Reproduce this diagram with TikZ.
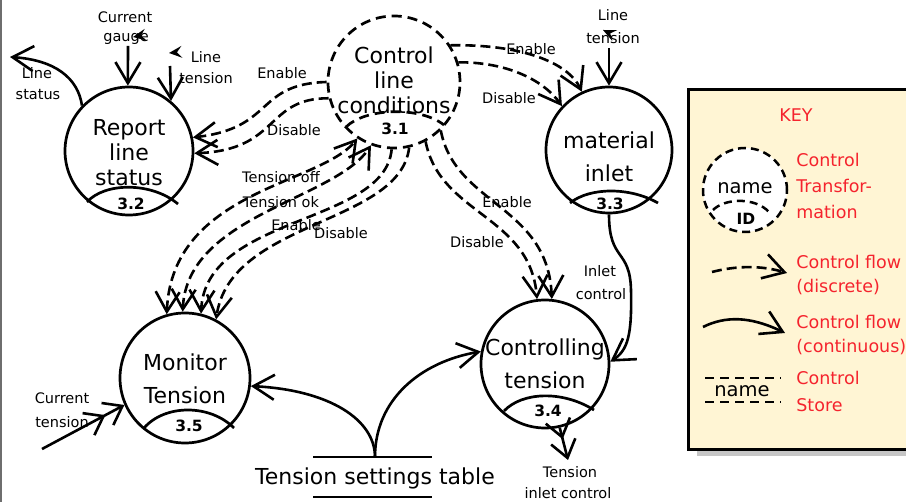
\documentclass[tikz,border=0pt]{standalone}
\usepackage{fontspec}
\setmainfont{DejaVu Sans}
\usetikzlibrary{arrows.meta}
\definecolor{keyfill}{RGB}{255,245,212}
\definecolor{keyred}{RGB}{245,35,45}
\definecolor{framegray}{RGB}{110,110,110}
\begin{document}
\begin{tikzpicture}[x=1pt,y=-1pt,
  line width=2.7pt,
  proc/.style={circle,draw,line width=2.7pt,inner sep=0pt,minimum size=#1},
  ctrlproc/.style={proc=#1,dash pattern=on 10pt off 6pt},
  ptext/.style={align=center,inner sep=0pt,font=\fontsize{22}{25}\selectfont},
  ptextwide/.style={align=center,inner sep=0pt,font=\fontsize{22}{33}\selectfont},
  idtext/.style={inner sep=0pt,font=\fontsize{15.5}{15}\selectfont\bfseries},
  lbl/.style={inner sep=0pt,font=\fontsize{14.5}{16}\selectfont},
  keytext/.style={inner sep=0pt,anchor=west,text=keyred,font=\fontsize{17.5}{19}\selectfont},
  flow/.style={line width=2.6pt,-{Straight Barb[length=21pt,width=25pt]}},
  dflow/.style={flow,dash pattern=on 10pt off 5pt},
  twoway/.style={line width=2.6pt,dash pattern=on 10pt off 5pt,
    {Straight Barb[length=20pt,width=24pt]}-{Straight Barb[length=20pt,width=24pt]}},
  dbl/.style={line width=2.6pt,
    -{Straight Barb[length=17pt,width=25pt,sep=1pt]Straight Barb[length=17pt,width=25pt]}},
  idarc/.style={line width=2.7pt},
  stub/.pic={\fill (0,0) -- (13,-6) -- (8,0) -- (13,6) -- cycle;}
]
\useasboundingbox (0,0) rectangle (906,502);

% page frame on the left
\draw[framegray,line width=2pt] (1,0) -- (1,502);

% ---------------- processes ----------------
\node[proc=128] (rep) at (129,151) {};
\node[ctrlproc=132] (ctl) at (394,82) {};
\node[proc=126] (mat) at (609,150) {};
\node[proc=130] (mon) at (185,378) {};
\node[proc=128] (ctg) at (545,364) {};

% identifier arcs
\draw[idarc] (87,202) .. controls (105,182) and (152,182) .. (178,204);
\draw[idarc,dash pattern=on 10pt off 6pt] (346,127) .. controls (365,108) and (420,106) .. (444,125);
\draw[idarc] (570,203) .. controls (590,187) and (630,187) .. (658,203);
\draw[idarc] (144,428) .. controls (165,404) and (210,404) .. (234,428);
\draw[idarc] (504,411) .. controls (522,392) and (562,390) .. (594,410);

% process names and identifiers
\node[ptext] (rept) at (129,153) {Report\\line\\status};
\node[idtext] (repid) at (131,204) {3.2};
\node[ptext] (ctlt) at (394,80) {Control\\line\\conditions};
\node[idtext] (ctlid) at (395,129) {3.1};
\node[ptextwide] (matt) at (609,157) {material\\inlet};
\node[idtext] (matid) at (610,204) {3.3};
\node[ptextwide] (mont) at (185,379) {Monitor\\Tension};
\node[idtext] (monid) at (189,426) {3.5};
\node[ptextwide] (ctgt) at (545,364) {Controlling\\tension};
\node[idtext] (ctgid) at (548,411) {3.4};

% ---------------- control store ----------------
\node[inner sep=0pt,font=\fontsize{22}{25}\selectfont] (tabt) at (375,478) {Tension settings table};
\draw[line width=2.7pt] (313,457) -- (432,457);
\draw[line width=2.7pt] (313,497) -- (432,497);
\coordinate (tab) at (375,457);

% ---------------- free ends ----------------
\coordinate (cg) at (128,46);
\coordinate (lt1) at (170,66);
\coordinate (ls) at (10,57);
\coordinate (lt2) at (609,48);
\coordinate (ct) at (42,449);
\coordinate (out) at (568,460);

% ---------------- continuous flows ----------------
\draw[flow] (cg) -- (rep.91);
\draw[flow] (lt1) -- (rep.50);
\draw[flow] (rep.136) .. controls (78,78) and (55,60) .. (ls);
\draw[flow] (lt2) -- (mat.90);
\draw[flow] (mat.270) .. controls (609,262) and (630,248) .. (631,290)
  .. controls (632,335) and (628,350) .. (ctg.2);
\draw[flow] (tab) .. controls (375,420) and (330,390) .. (mon.353);
\draw[flow] (tab) .. controls (375,400) and (420,362) .. (ctg.169);
\draw[dbl] (ct) -- (mon.204);
\draw[dbl] (ctg.283) -- (out);

% ---------------- discrete flows ----------------
\draw[dflow] (ctl.180) .. controls (255,84) and (275,128) .. (rep.12);
\draw[dflow] (ctl.194) .. controls (265,98) and (280,150) .. (rep.-2);
\draw[dflow] (ctl.33) .. controls (520,44) and (568,62) .. (mat.115);
\draw[dflow] (ctl.17) .. controls (510,62) and (545,82) .. (mat.137);
\draw[dflow] (ctl.314) .. controls (455,205) and (548,205) .. (ctg.84);
\draw[dflow] (ctl.298) .. controls (440,215) and (530,215) .. (ctg.97);
\draw[twoway] (mon.106) .. controls (172,190) and (320,185) .. (ctl.237);
\draw[twoway] (mon.92) .. controls (187,215) and (335,200) .. (ctl.250);
\draw[dflow] (ctl.268) .. controls (385,225) and (205,215) .. (mon.76);
\draw[dflow] (ctl.283) .. controls (400,225) and (230,220) .. (mon.62);

% small loose arrowheads
\pic[rotate=10] at (133,37) {stub};
\pic[rotate=5] at (169,53) {stub};
\pic[rotate=-25] at (603,30) {stub};

% ---------------- flow labels ----------------
\node[lbl] (l1a) at (125,17) {Current};
\node[lbl] (l1b) at (126,39) {gauge};
\node[lbl] (l2a) at (206,57) {Line};
\node[lbl] (l2b) at (206,78) {tension};
\node[lbl] (l3a) at (37,73) {Line};
\node[lbl] (l3b) at (38,95) {status};
\node[lbl] (l4) at (282,73) {Enable};
\node[lbl] (l5) at (294,130) {Disable};
\node[lbl] (l6) at (531,49) {Enable};
\node[lbl] (l7) at (509,98) {Disable};
\node[lbl] (l8a) at (613,15) {Line};
\node[lbl] (l8b) at (613,38) {tension};
\node[lbl] (l9) at (281,177) {Tension off};
\node[lbl] (l10) at (281,202) {Tension ok};
\node[lbl] (l11) at (296,225) {Enable};
\node[lbl] (l12) at (341,233) {Disable};
\node[lbl] (l13) at (507,202) {Enable};
\node[lbl] (l14) at (477,242) {Disable};
\node[lbl] (l15a) at (600,271) {Inlet};
\node[lbl] (l15b) at (601,294) {control};
\node[lbl] (l16a) at (62,398) {Current};
\node[lbl] (l16b) at (62,422) {tension};
\node[lbl] (l17a) at (570,472) {Tension};
\node[lbl] (l17b) at (568,493) {inlet control};

% ---------------- key ----------------
\fill[gray!45] (697,450) rectangle (906,456);
\draw[line width=3pt,fill=keyfill] (688,90) rectangle (912,450);
\node[inner sep=0pt,text=keyred,font=\fontsize{17.5}{19}\selectfont] (keyt) at (796,115) {KEY};
\node[circle,draw,fill=white,line width=2.5pt,dash pattern=on 8pt off 5pt,
  inner sep=0pt,minimum size=84] (kproc) at (745,190) {};
\draw[line width=2.5pt,dash pattern=on 8pt off 5pt] (713,210) .. controls (725,198) and (755,197) .. (769,212);
\node[inner sep=0pt,font=\fontsize{19.5}{22}\selectfont] (kname) at (745,188) {name};
\node[inner sep=0pt,font=\fontsize{15.5}{15}\selectfont\bfseries] (kid) at (746,219) {ID};
\node[keytext] (k1a) at (795,160) {Control};
\node[keytext] (k1b) at (795,186) {Transfor-};
\node[keytext] (k1c) at (795,212) {mation};
\coordinate (kd1) at (712,272);
\coordinate (kd2) at (787,273);
\draw[dflow] (kd1) .. controls (735,266) and (760,265) .. (kd2);
\node[keytext] (k2a) at (795,262) {Control flow};
\node[keytext] (k2b) at (795,287) {(discrete)};
\coordinate (ks1) at (703,327);
\coordinate (ks2) at (785,333);
\draw[flow] (ks1) .. controls (725,316) and (750,316) .. (ks2);
\node[keytext] (k3a) at (795,322) {Control flow};
\node[keytext] (k3b) at (795,347) {(continuous)};
\draw[line width=2.5pt,dash pattern=on 9pt off 6pt] (705,378) -- (781,378);
\draw[line width=2.5pt,dash pattern=on 9pt off 6pt] (705,402) -- (781,402);
\node[inner sep=0pt,font=\fontsize{19.5}{22}\selectfont] (kstore) at (742,391) {name};
\node[keytext] (k4a) at (795,378) {Control};
\node[keytext] (k4b) at (795,405) {Store};
\end{tikzpicture}
\end{document}
